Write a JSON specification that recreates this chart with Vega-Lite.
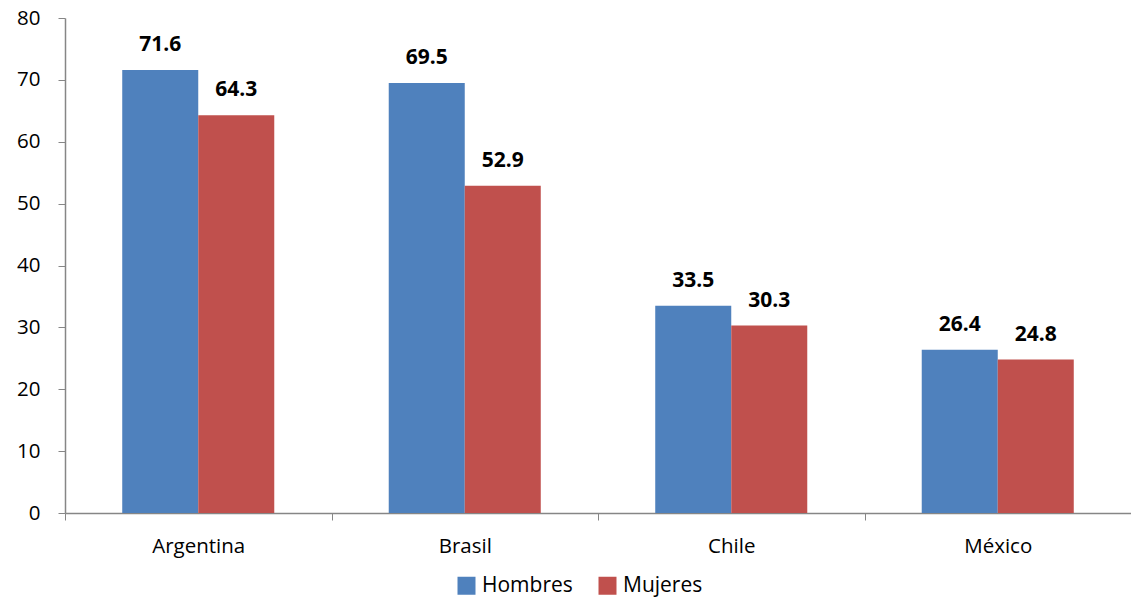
{
  "$schema": "https://vega.github.io/schema/vega-lite/v6.json",
  "width": 1066,
  "height": 495,
  "autosize": {"type": "none"},
  "padding": {"left": 65, "top": 18, "right": 0, "bottom": 86},
  "background": "white",
  "config": {
    "view": {"stroke": null},
    "font": "Open Sans",
    "axis": {"domainColor": "#868686", "tickColor": "#868686", "grid": false, "labelColor": "#000000", "labelFont": "Open Sans", "labelFontSize": 20.5, "title": null}
  },
  "data": {
    "values": [
      {"pais": "Argentina", "sexo": "Hombres", "valor": 71.6},
      {"pais": "Argentina", "sexo": "Mujeres", "valor": 64.3},
      {"pais": "Brasil", "sexo": "Hombres", "valor": 69.5},
      {"pais": "Brasil", "sexo": "Mujeres", "valor": 52.9},
      {"pais": "Chile", "sexo": "Hombres", "valor": 33.5},
      {"pais": "Chile", "sexo": "Mujeres", "valor": 30.3},
      {"pais": "México", "sexo": "Hombres", "valor": 26.4},
      {"pais": "México", "sexo": "Mujeres", "valor": 24.8}
    ]
  },
  "encoding": {
    "x": {
      "field": "pais", "type": "nominal", "sort": ["Argentina", "Brasil", "Chile", "México"],
      "scale": {"paddingInner": 0, "paddingOuter": 0},
      "axis": {"labelAngle": 0, "tickBand": "extent", "tickSize": 7, "labelPadding": 16, "domainWidth": 1.5}
    },
    "y": {
      "field": "valor", "type": "quantitative",
      "scale": {"domain": [0, 80], "nice": false},
      "axis": {"values": [0, 10, 20, 30, 40, 50, 60, 70, 80], "tickSize": 7, "labelPadding": 18, "domainWidth": 1.5}
    }
  },
  "layer": [
    {
      "mark": {"type": "bar"},
      "encoding": {
        "xOffset": {"field": "sexo", "type": "nominal", "sort": ["Hombres", "Mujeres"], "scale": {"paddingInner": 0, "paddingOuter": 0.753}},
        "color": {
          "field": "sexo", "type": "nominal",
          "scale": {"domain": ["Hombres", "Mujeres"], "range": ["#4F81BD", "#C0504D"]},
          "legend": {
            "title": null, "orient": "none", "direction": "horizontal",
            "legendX": 391, "legendY": 557,
            "symbolType": "square", "symbolSize": 324, "symbolStrokeWidth": 0,
            "labelFontSize": 21, "labelFont": "Open Sans", "labelColor": "#000000",
            "columnPadding": 24, "labelOffset": 5
          }
        }
      }
    },
    {
      "mark": {"type": "text", "baseline": "alphabetic", "dy": -19, "fontWeight": "bold", "fontSize": 21, "font": "Open Sans", "color": "#000000"},
      "encoding": {
        "xOffset": {"field": "sexo", "type": "nominal", "sort": ["Hombres", "Mujeres"]},
        "text": {"field": "valor", "type": "quantitative", "format": ".1f"}
      }
    }
  ]
}
